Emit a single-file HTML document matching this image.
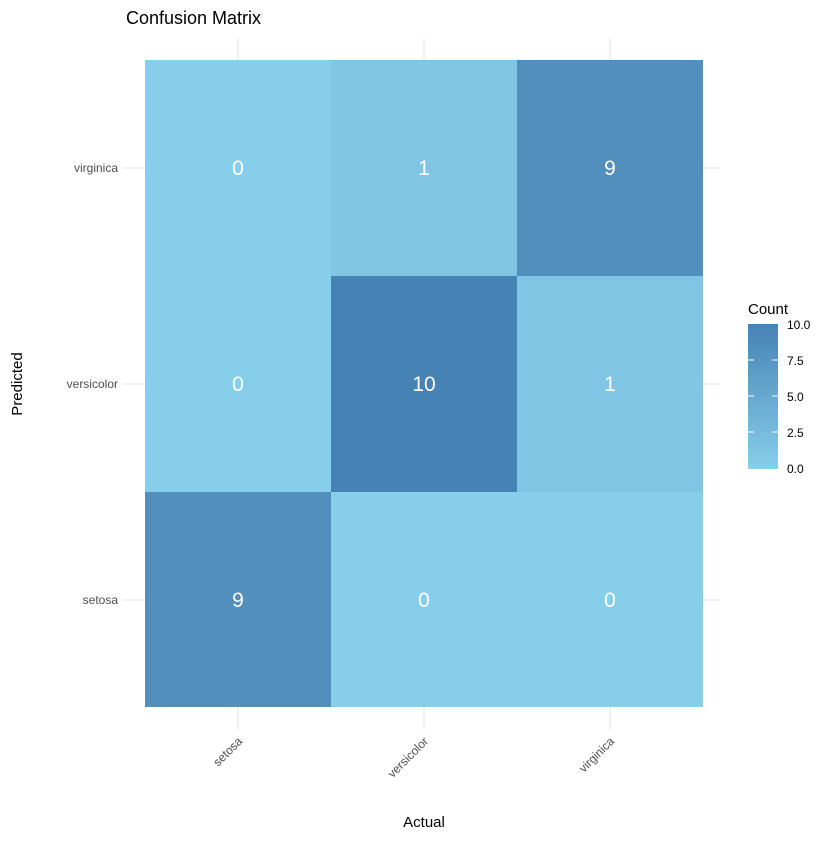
<!DOCTYPE html>
<html><head><style>body{margin:0;background:#fff}</style></head><body>
<svg width="840" height="840" xmlns="http://www.w3.org/2000/svg" font-family="Liberation Sans, sans-serif">
<defs><linearGradient id="g" x1="0" y1="1" x2="0" y2="0"><stop offset="0" stop-color="#87CEEB"/><stop offset="1" stop-color="#4682B4"/></linearGradient></defs>
<g stroke="#ebebeb" stroke-width="1.5">
<line x1="238" y1="38" x2="238" y2="730"/><line x1="424" y1="38" x2="424" y2="730"/><line x1="610" y1="38" x2="610" y2="730"/>
<line x1="122" y1="168" x2="720" y2="168"/><line x1="122" y1="384" x2="720" y2="384"/><line x1="122" y1="600" x2="720" y2="600"/>
</g>
<rect x="145" y="60" width="186" height="216" fill="#87CEEB"/>
<rect x="331" y="60" width="186" height="216" fill="#80C5E4"/>
<rect x="517" y="60" width="186" height="216" fill="#528FBD"/>
<rect x="145" y="276" width="186" height="216" fill="#87CEEB"/>
<rect x="331" y="276" width="186" height="216" fill="#4682B4"/>
<rect x="517" y="276" width="186" height="216" fill="#80C5E4"/>
<rect x="145" y="492" width="186" height="215" fill="#528FBD"/>
<rect x="331" y="492" width="186" height="215" fill="#87CEEB"/>
<rect x="517" y="492" width="186" height="215" fill="#87CEEB"/>
<g fill="#fff" font-size="21" text-anchor="middle">
<text x="238" y="175">0</text><text x="424" y="175">1</text><text x="610" y="175">9</text>
<text x="238" y="391">0</text><text x="424" y="391">10</text><text x="610" y="391">1</text>
<text x="238" y="607">9</text><text x="424" y="607">0</text><text x="610" y="607">0</text>
</g>
<g fill="#4d4d4d" font-size="12" text-anchor="end">
<text x="118" y="172">virginica</text><text x="118" y="388">versicolor</text><text x="118" y="604">setosa</text>
<text transform="translate(243,742) rotate(-45)">setosa</text>
<text transform="translate(429,742) rotate(-45)">versicolor</text>
<text transform="translate(615,742) rotate(-45)">virginica</text>
</g>
<text x="126" y="24" font-size="18" fill="#000">Confusion Matrix</text>
<text x="424" y="827" font-size="15" text-anchor="middle">Actual</text>
<text transform="translate(22,384) rotate(-90)" font-size="15" text-anchor="middle">Predicted</text>
<text x="748" y="314" font-size="15">Count</text>
<rect x="748" y="324" width="30" height="145" fill="url(#g)"/>
<g stroke="#fff" stroke-width="1">
<line x1="748" y1="360" x2="754" y2="360"/><line x1="772" y1="360" x2="778" y2="360"/>
<line x1="748" y1="396" x2="754" y2="396"/><line x1="772" y1="396" x2="778" y2="396"/>
<line x1="748" y1="432" x2="754" y2="432"/><line x1="772" y1="432" x2="778" y2="432"/>
</g>
<g font-size="12" fill="#000">
<text x="787" y="329">10.0</text><text x="787" y="365">7.5</text><text x="787" y="401">5.0</text><text x="787" y="437">2.5</text><text x="787" y="473">0.0</text>
</g>
</svg>
</body></html>
